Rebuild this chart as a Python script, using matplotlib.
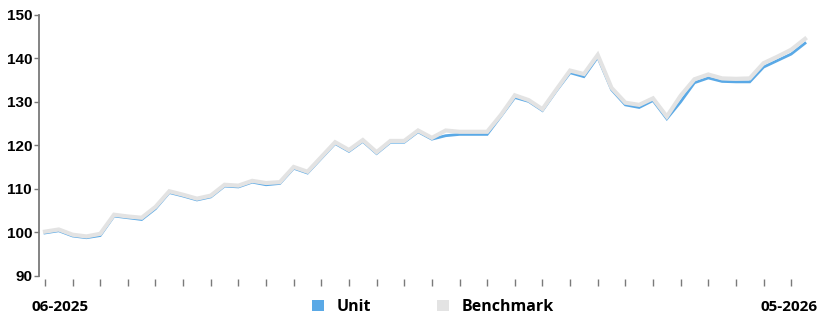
import matplotlib
matplotlib.use("Agg")
import matplotlib.pyplot as plt
from matplotlib.patches import Patch

# weekly index values, 56 points from 06-2025 to 05-2026
unit = [99.8, 100.3, 99.1, 98.7, 99.2, 103.7, 103.3, 102.9, 105.4, 109.1,
        108.3, 107.4, 108.1, 110.6, 110.4, 111.5, 110.9, 111.2, 114.7, 113.6,
        117.0, 120.4, 118.6, 120.9, 118.1, 120.7, 120.7, 123.1, 121.4, 122.2,
        122.5, 122.5, 122.5, 126.7, 131.0, 130.1, 128.0, 132.5, 136.7, 135.8,
        140.3, 132.8, 129.3, 128.7, 130.3, 126.1, 130.0, 134.4, 135.5, 134.7,
        134.6, 134.6, 138.0, 139.5, 141.0, 143.5]
benchmark = [100.1, 100.6, 99.4, 99.0, 99.6, 104.0, 103.6, 103.3, 105.8, 109.4,
             108.6, 107.7, 108.4, 110.9, 110.7, 111.8, 111.3, 111.5, 115.0, 113.9,
             117.3, 120.7, 118.9, 121.2, 118.4, 121.0, 121.0, 123.4, 121.7, 123.4,
             123.1, 123.1, 123.1, 127.0, 131.5, 130.4, 128.3, 132.8, 137.2, 136.4,
             140.8, 133.2, 129.8, 129.3, 130.8, 126.6, 131.4, 135.2, 136.3, 135.4,
             135.3, 135.4, 138.9, 140.4, 142.0, 144.5]
series_names = ["Unit", "Benchmark"]
first_label = "06-2025"
last_label = "05-2026"
y_ticks = [90, 100, 110, 120, 130, 140, 150]

blue = "#5aa9e6"
grey = "#e3e3e3"
axis_grey = "#7a7a7a"

fig = plt.figure(figsize=(8.18, 3.17), dpi=100)
ax = fig.add_axes([39 / 818, 41.5 / 317, 1 - 39 / 818, 260.5 / 317])

x = list(range(len(unit)))
ax.plot(x, unit, color=blue, lw=2.0, solid_joinstyle="miter", zorder=2)
ax.plot(x, benchmark, color=grey, lw=3.0, solid_joinstyle="miter", zorder=3)

ax.set_xlim(-0.43, 55.94)
ax.set_ylim(90, 150)
ax.set_yticks(y_ticks)
ax.set_yticklabels([str(v) for v in y_ticks], fontfamily="Liberation Sans",
                   fontweight="bold", fontsize=11)

# ticks every other week, no labels on the axis itself
ax.set_xticks(x[::2])
ax.set_xticklabels([])

for s in ["top", "right"]:
    ax.spines[s].set_visible(False)
ax.spines["bottom"].set_position(("outward", 2.5))
ax.spines["bottom"].set_visible(False)
ax.spines["left"].set_color(axis_grey)
ax.spines["left"].set_linewidth(1.3)
ax.tick_params(axis="x", length=4.8, width=1.0, color=axis_grey)
ax.tick_params(axis="y", length=3.5, width=1.0, color=axis_grey, pad=1.5)

fig.text(31 / 818, 1 - 307 / 317, first_label, ha="left", va="center",
         fontfamily="Open Sans", fontweight="bold", fontsize=11)
fig.text(1.0, 1 - 307 / 317, last_label, ha="right", va="center",
         fontfamily="Open Sans", fontweight="bold", fontsize=11)

handles = [Patch(facecolor=blue, edgecolor="none"),
           Patch(facecolor=grey, edgecolor="none")]
fig.legend(handles, series_names, loc="center", ncol=2,
           bbox_to_anchor=(433 / 818, 1 - 307 / 317), frameon=False,
           prop={"family": "Open Sans", "weight": "bold", "size": 11.5},
           handlelength=0.75, handleheight=0.75, handletextpad=0.8,
           columnspacing=4.1, borderpad=0, borderaxespad=0)

fig.savefig("out.png", dpi=100)
